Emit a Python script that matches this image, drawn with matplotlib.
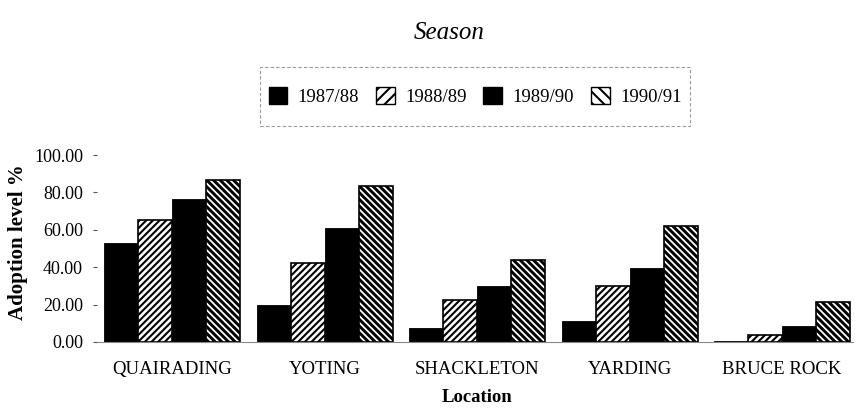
import matplotlib
matplotlib.use("Agg")
import matplotlib.pyplot as plt
import numpy as np
from matplotlib.patches import Patch, Rectangle

locations = ["QUAIRADING", "YOTING", "SHACKLETON", "YARDING", "BRUCE ROCK"]
seasons = ["1987/88", "1988/89", "1989/90", "1990/91"]
s1987 = [53.0, 20.0, 7.4, 11.0, 0.5]
s1988 = [65.5, 42.5, 22.5, 30.0, 3.8]
s1989 = [76.5, 61.0, 29.7, 39.5, 8.3]
s1990 = [86.5, 83.5, 43.7, 61.8, 21.4]
yticks = [0, 20, 40, 60, 80, 100]

plt.rcParams['font.family'] = ['Liberation Serif', 'DejaVu Serif']

W, H = 855, 409
fig = plt.figure(figsize=(8.55, 4.09), dpi=100)
ax = fig.add_axes([97 / W, 1 - 342 / H, 756 / W, (342 - 155) / H])

series = [s1987, s1988, s1989, s1990]
hatches = [None, '/////', None, '\\\\\\\\\\']
hlw = [1.0, 1.5, 1.0, 2.1]
x = np.arange(len(locations))
w = 0.223
offsets = [-1.5, -0.5, 0.5, 1.5]
handles = []
for vals, h, lw, off, lab in zip(series, hatches, hlw, offsets, seasons):
    with plt.rc_context({'hatch.linewidth': lw}):
        if h is None:
            ax.bar(x + off * w, vals, w, color='black', edgecolor='black', linewidth=0.6)
            handles.append(Patch(facecolor='black', edgecolor='black', label=lab))
        else:
            ax.bar(x + off * w, vals, w, color='white', edgecolor='black', hatch=h, linewidth=1.2)
            handles.append(Patch(facecolor='white', edgecolor='black', hatch=h[:3], label=lab))

ax.set_xlim(-0.495, 4.465)
ax.set_ylim(0, 100)
ax.set_yticks(yticks)
ax.set_yticklabels([f"{v:.2f}" for v in yticks], fontsize=13)
ax.set_xticks(x)
ax.set_xticklabels(locations, fontsize=13.5)
ax.tick_params(axis='x', length=0, pad=14)
ax.tick_params(axis='y', length=3, width=0.8, color='#555555', pad=7)
for s in ['top', 'right', 'left']:
    ax.spines[s].set_visible(False)
ax.spines['bottom'].set_color('#888888')
ax.spines['bottom'].set_linewidth(0.8)

fig.text(18 / W, 1 - 242 / H, "Adoption level %", fontsize=15, fontweight='bold',
         rotation=90, ha='center', va='center')
fig.text(477 / W, 1 - 397 / H, "Location", fontsize=13.5, fontweight='bold',
         ha='center', va='center')

fig.text(449 / W, 1 - 33 / H, "Season", fontsize=18, style='italic', ha='center', va='center')

# legend box
box = Rectangle((260 / W, 1 - 126 / H), 430 / W, 59 / H, transform=fig.transFigure,
                facecolor='none', edgecolor='#999999', linewidth=0.8, linestyle=(0, (3, 2)))
fig.add_artist(box)
with plt.rc_context({'hatch.linewidth': 1.5}):
    leg = fig.legend(handles=handles, loc='center', bbox_to_anchor=(475 / W, 1 - 96.5 / H), ncol=4,
                     fontsize=13.5, frameon=False,
                     handlelength=1.0, handleheight=1.05, handletextpad=0.55, columnspacing=0.9,
                     borderpad=0.5)

fig.savefig("out.png", dpi=100)
